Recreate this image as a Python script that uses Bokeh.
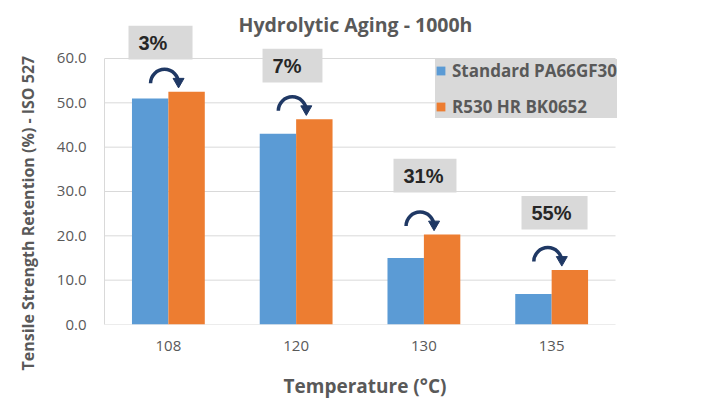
import numpy as np
from bokeh.plotting import figure
from bokeh.models import (ColumnDataSource, Range1d, FixedTicker,
                          PrintfTickFormatter, Legend, LegendItem, Title)
from bokeh.transform import dodge
from bokeh.core.properties import value
from bokeh.embed import file_html
from bokeh.resources import INLINE

# ---------------- data ----------------
temps = ["108", "120", "130", "135"]
standard = [51.0, 43.0, 15.0, 6.9]
r530 = [52.5, 46.3, 20.3, 12.3]
gains = ["3%", "7%", "31%", "55%"]
series_names = ["Standard PA66GF30", "R530 HR BK0652"]
y_ticks = [0, 10, 20, 30, 40, 50, 60]
title_text = "Hydrolytic Aging -  1000h"
x_title = "Temperature (°C)"
y_title = "Tensile Strength Retention (%) - ISO 527"

# ---------------- layout (positions / sizes) ----------------
n = len(temps)
xc = np.arange(n) + 0.5          # category centres on a numeric axis
bar_w = 0.285
box_left = [0.188, 1.237, 2.262, 3.264]
box_width = [0.501, 0.469, 0.493, 0.517]
box_bottom = [59.8, 54.6, 29.8, 21.4]
box_height = 7.6
text_pad = 0.078
arc_lift = 1.9
arc_shift = -0.03
arc_r_px = 14
px_per_x = 127.75

BLUE = "#5B9BD5"
ORANGE = "#ED7D31"
NAVY = "#1F3864"
GREY_TXT = "#595959"
GRID = "#D9D9D9"

src = ColumnDataSource(dict(
    xc=xc.tolist(), temp=temps, standard=standard, r530=r530,
    arc_y=list(np.array(r530) + arc_lift),
    head_y=list(np.array(r530) + arc_lift + 0.4),
))

p = figure(width=693, height=404,
           x_range=Range1d(0, 4.078),
           y_range=Range1d(0, 73.08),
           output_backend="svg", toolbar_location=None,
           min_border_left=104, min_border_right=68,
           min_border_top=0, min_border_bottom=80,
           outline_line_color=None)

# axes
p.yaxis.ticker = FixedTicker(ticks=y_ticks)
p.yaxis.formatter = PrintfTickFormatter(format="%.1f")
p.yaxis.bounds = (0, 60)
p.yaxis.axis_line_color = GRID
p.yaxis.major_tick_line_color = None
p.yaxis.minor_tick_line_color = None
p.yaxis.major_tick_out = 0
p.yaxis.major_label_standoff = 18
p.xaxis.ticker = FixedTicker(ticks=xc.tolist())
p.xaxis.major_label_overrides = {float(c): t for c, t in zip(xc, temps)}
p.xaxis.axis_line_color = None
p.xaxis.major_tick_line_color = None
p.xaxis.minor_tick_line_color = None
p.xaxis.major_tick_out = 0
p.xaxis.major_label_standoff = 16
p.xaxis.axis_label = x_title
p.xaxis.axis_label_standoff = 19
p.xaxis.axis_label_text_font = "Open Sans"
p.xaxis.axis_label_text_font_style = "bold"
p.xaxis.axis_label_text_font_size = "19px"
p.xaxis.axis_label_text_color = GREY_TXT
for ax in (p.xaxis, p.yaxis):
    ax.major_label_text_font = "Open Sans"
    ax.major_label_text_font_size = "15px"
    ax.major_label_text_color = GREY_TXT
p.xgrid.grid_line_color = None
p.ygrid.grid_line_color = None

# horizontal gridlines (and baseline) limited to the category span
p.segment(x0=0, x1=n, y0=y_ticks, y1=y_ticks,
          line_color=GRID, line_width=1)

# bars
r1 = p.vbar(x=dodge("xc", -bar_w / 2), top="standard",
            width=bar_w, source=src, fill_color=BLUE, line_color=None)
r2 = p.vbar(x=dodge("xc", bar_w / 2), top="r530",
            width=bar_w, source=src, fill_color=ORANGE, line_color=None)

# curved arrows
p.arc(x=dodge("xc", arc_shift), y="arc_y", source=src,
      radius=arc_r_px, radius_units="screen", start_angle=0, end_angle=np.pi,
      line_width=3.5, line_color=NAVY)
p.scatter(x=dodge("xc", arc_shift + arc_r_px / px_per_x),
          y="head_y", source=src, marker="inverted_triangle", size=11,
          fill_color=NAVY, line_color=NAVY)

# percentage boxes
bl = np.array(box_left)
bw = np.array(box_width)
bb = np.array(box_bottom)
p.quad(left=bl, right=bl + bw, bottom=bb, top=bb + box_height,
       fill_color="#D9D9D9", line_color=None)
p.text(x=bl + text_pad, y=bb + box_height / 2, text=gains,
       text_font=value("Liberation Sans"), text_font_style="bold",
       text_font_size="20px", text_baseline="middle", text_align="left",
       text_color="#262626")

# chart title
p.text(x=[1.984], y=[67.67], text=[title_text],
       text_font=value("Open Sans"), text_font_style="bold",
       text_font_size="19.5px", text_align="center", text_baseline="alphabetic",
       text_color=GREY_TXT)

# y-axis title
p.add_layout(Title(text=y_title, align="left", offset=-46,
                   text_font="Open Sans", text_font_style="bold",
                   text_font_size="16px", text_color=GREY_TXT, standoff=29),
             "left")

# legend
legend = Legend(items=[LegendItem(label=series_names[0], renderers=[r1]),
                       LegendItem(label=series_names[1], renderers=[r2])],
                location=(331, 206), orientation="vertical",
                background_fill_color="#D9D9D9", background_fill_alpha=1.0,
                border_line_color=None, padding=7, spacing=13, margin=0,
                label_height=20, glyph_height=11, glyph_width=11,
                label_standoff=6, label_text_font="Open Sans",
                label_text_font_style="bold", label_text_font_size="17px",
                label_text_color=GREY_TXT, label_text_baseline="middle")
p.add_layout(legend)

open("out.html", "w").write(file_html(p, INLINE))
